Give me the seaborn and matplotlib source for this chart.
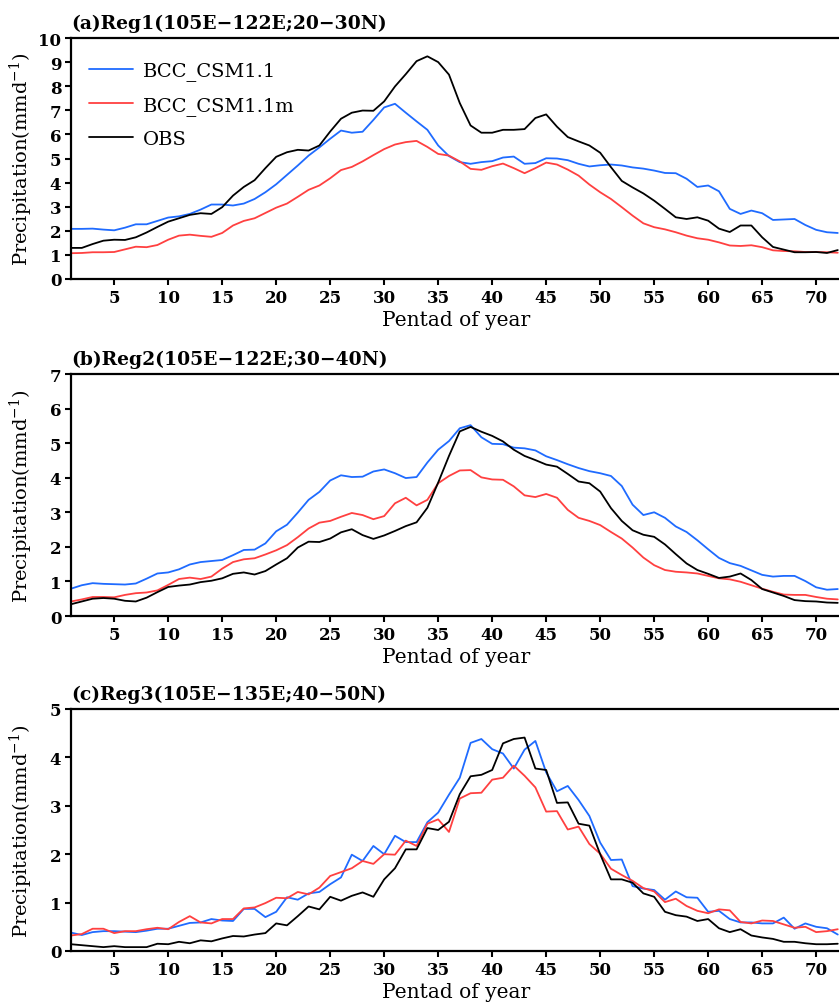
import pandas as pd
import seaborn as sns
import matplotlib.pyplot as plt

# pentads and series
pentads = list(range(1, 73))
models = ["BCC_CSM1.1", "BCC_CSM1.1m", "OBS"]
colors = {"BCC_CSM1.1": "#1f6bff", "BCC_CSM1.1m": "#ff4040", "OBS": "black"}

reg1_bcc = [2.08, 2.08, 2.09, 2.05, 2.02, 2.13, 2.27, 2.27, 2.41, 2.55, 2.6, 2.7, 2.88, 3.09, 3.09, 3.05, 3.13, 3.32,
            3.6, 3.93, 4.32, 4.71, 5.12, 5.46, 5.82, 6.16, 6.07, 6.11, 6.6, 7.12, 7.27, 6.9, 6.54, 6.19, 5.54, 5.1,
            4.85, 4.78, 4.85, 4.89, 5.04, 5.08, 4.78, 4.81, 5.01, 5.0, 4.93, 4.78, 4.67, 4.72, 4.75, 4.71, 4.63, 4.58,
            4.5, 4.4, 4.39, 4.16, 3.82, 3.88, 3.64, 2.91, 2.7, 2.84, 2.73, 2.45, 2.47, 2.49, 2.24, 2.04, 1.94, 1.91]
reg1_bccm = [1.07, 1.08, 1.11, 1.11, 1.12, 1.23, 1.34, 1.32, 1.41, 1.63, 1.8, 1.84, 1.79, 1.75, 1.91, 2.22, 2.41, 2.52,
             2.74, 2.96, 3.13, 3.41, 3.7, 3.88, 4.18, 4.52, 4.65, 4.88, 5.14, 5.39, 5.58, 5.68, 5.73, 5.48, 5.19, 5.12,
             4.88, 4.57, 4.53, 4.68, 4.79, 4.6, 4.39, 4.6, 4.83, 4.75, 4.54, 4.29, 3.92, 3.6, 3.32, 2.98, 2.63, 2.31,
             2.15, 2.06, 1.94, 1.8, 1.69, 1.63, 1.52, 1.39, 1.37, 1.4, 1.32, 1.19, 1.16, 1.15, 1.12, 1.12, 1.11, 1.09]
reg1_obs = [1.29, 1.29, 1.45, 1.59, 1.63, 1.62, 1.73, 1.93, 2.16, 2.38, 2.52, 2.66, 2.73, 2.7, 2.98, 3.46, 3.82, 4.1,
            4.6, 5.07, 5.26, 5.36, 5.33, 5.54, 6.12, 6.65, 6.9, 6.99, 6.98, 7.37, 7.99, 8.5, 9.04, 9.24, 9.0, 8.48,
            7.3, 6.37, 6.07, 6.07, 6.19, 6.19, 6.22, 6.68, 6.83, 6.32, 5.89, 5.71, 5.54, 5.24, 4.64, 4.07, 3.8, 3.55,
            3.25, 2.91, 2.56, 2.49, 2.56, 2.42, 2.09, 1.95, 2.22, 2.22, 1.73, 1.33, 1.22, 1.11, 1.11, 1.12, 1.08, 1.2]

reg2_bcc = [0.79, 0.89, 0.95, 0.93, 0.92, 0.91, 0.94, 1.08, 1.23, 1.26, 1.35, 1.49, 1.56, 1.59, 1.62, 1.76, 1.91, 1.92,
            2.1, 2.45, 2.64, 2.99, 3.36, 3.59, 3.92, 4.07, 4.02, 4.03, 4.18, 4.24, 4.13, 3.99, 4.02, 4.44, 4.81, 5.06,
            5.43, 5.52, 5.17, 4.98, 4.97, 4.87, 4.85, 4.79, 4.62, 4.51, 4.39, 4.28, 4.19, 4.13, 4.05, 3.76, 3.22, 2.92,
            3.0, 2.84, 2.59, 2.43, 2.19, 1.93, 1.68, 1.53, 1.45, 1.32, 1.19, 1.14, 1.16, 1.16, 1.01, 0.83, 0.76, 0.78]
reg2_bccm = [0.42, 0.48, 0.55, 0.55, 0.54, 0.61, 0.66, 0.68, 0.74, 0.9, 1.07, 1.11, 1.07, 1.14, 1.37, 1.56, 1.64, 1.67,
             1.78, 1.9, 2.05, 2.28, 2.53, 2.7, 2.75, 2.87, 2.98, 2.92, 2.8, 2.89, 3.26, 3.42, 3.2, 3.36, 3.84, 4.05,
             4.21, 4.22, 4.01, 3.95, 3.94, 3.75, 3.49, 3.44, 3.53, 3.42, 3.07, 2.84, 2.75, 2.63, 2.43, 2.24, 1.98, 1.69,
             1.47, 1.33, 1.28, 1.26, 1.23, 1.16, 1.09, 1.06, 0.99, 0.89, 0.79, 0.7, 0.62, 0.61, 0.61, 0.55, 0.5, 0.48]
reg2_obs = [0.34, 0.42, 0.5, 0.52, 0.5, 0.44, 0.42, 0.53, 0.69, 0.84, 0.88, 0.91, 0.98, 1.02, 1.09, 1.22, 1.26, 1.2,
            1.3, 1.49, 1.67, 1.98, 2.15, 2.14, 2.24, 2.42, 2.51, 2.34, 2.23, 2.33, 2.46, 2.6, 2.71, 3.13, 3.86, 4.63,
            5.34, 5.47, 5.33, 5.21, 5.05, 4.81, 4.63, 4.51, 4.38, 4.32, 4.11, 3.89, 3.84, 3.6, 3.12, 2.75, 2.48, 2.35,
            2.29, 2.07, 1.79, 1.52, 1.33, 1.22, 1.1, 1.14, 1.23, 1.04, 0.78, 0.68, 0.58, 0.46, 0.43, 0.42, 0.39, 0.38]

reg3_bcc = [0.38, 0.33, 0.39, 0.41, 0.41, 0.4, 0.39, 0.42, 0.46, 0.46, 0.52, 0.58, 0.59, 0.66, 0.63, 0.62, 0.87, 0.87,
            0.7, 0.81, 1.11, 1.06, 1.19, 1.22, 1.38, 1.52, 1.99, 1.86, 2.17, 2.0, 2.38, 2.25, 2.25, 2.66, 2.86, 3.23,
            3.58, 4.3, 4.38, 4.17, 4.08, 3.77, 4.16, 4.34, 3.69, 3.3, 3.41, 3.12, 2.79, 2.24, 1.88, 1.89, 1.34, 1.29,
            1.26, 1.06, 1.23, 1.11, 1.1, 0.81, 0.83, 0.66, 0.59, 0.59, 0.57, 0.57, 0.69, 0.46, 0.57, 0.5, 0.47, 0.34]
reg3_bccm = [0.32, 0.35, 0.46, 0.46, 0.37, 0.41, 0.41, 0.45, 0.48, 0.45, 0.6, 0.72, 0.59, 0.57, 0.66, 0.66, 0.88, 0.9,
             0.99, 1.1, 1.09, 1.22, 1.17, 1.31, 1.55, 1.63, 1.71, 1.86, 1.8, 2.0, 1.99, 2.28, 2.17, 2.63, 2.72, 2.46,
             3.15, 3.26, 3.27, 3.54, 3.58, 3.83, 3.62, 3.38, 2.88, 2.89, 2.51, 2.57, 2.21, 2.01, 1.7, 1.57, 1.45, 1.3,
             1.23, 1.01, 1.08, 0.93, 0.83, 0.78, 0.86, 0.84, 0.6, 0.57, 0.63, 0.62, 0.55, 0.48, 0.5, 0.39, 0.41, 0.45]
reg3_obs = [0.14, 0.12, 0.1, 0.08, 0.1, 0.08, 0.08, 0.08, 0.15, 0.14, 0.19, 0.16, 0.22, 0.2, 0.26, 0.31, 0.3, 0.34,
            0.37, 0.57, 0.53, 0.72, 0.92, 0.86, 1.12, 1.04, 1.14, 1.21, 1.12, 1.48, 1.71, 2.1, 2.1, 2.54, 2.5, 2.67,
            3.24, 3.61, 3.64, 3.74, 4.29, 4.38, 4.41, 3.77, 3.74, 3.06, 3.07, 2.63, 2.59, 2.0, 1.48, 1.48, 1.41, 1.19,
            1.12, 0.81, 0.74, 0.71, 0.62, 0.66, 0.47, 0.39, 0.45, 0.32, 0.28, 0.25, 0.19, 0.19, 0.16, 0.14, 0.14, 0.15]

titles = ["(a)Reg1(105E\u2212122E;20\u221230N)",
          "(b)Reg2(105E\u2212122E;30\u221240N)",
          "(c)Reg3(105E\u2212135E;40\u221250N)"]
ymax = [10, 7, 5]
panels = [(reg1_bcc, reg1_bccm, reg1_obs),
          (reg2_bcc, reg2_bccm, reg2_obs),
          (reg3_bcc, reg3_bccm, reg3_obs)]

sns.set_style("ticks")
plt.rcParams["font.family"] = ["DejaVu Serif"]
plt.rcParams["mathtext.fontset"] = "dejavuserif"
plt.rcParams["text.color"] = "black"
plt.rcParams["axes.labelcolor"] = "black"
plt.rcParams["axes.edgecolor"] = "black"
plt.rcParams["xtick.color"] = "black"
plt.rcParams["ytick.color"] = "black"

fig = plt.figure(figsize=(8.39, 10.04), dpi=100)
W, H = 839, 1004
# axes boxes in pixels: (left, top, right, bottom)
boxes = [(71, 39, 841, 280), (71, 375, 841, 617), (71, 710, 841, 952)]

for i in range(3):
    l, t, r, b = boxes[i]
    ax = fig.add_axes([l / W, 1 - b / H, (r - l) / W, (b - t) / H])
    df = pd.DataFrame({"Pentad": pentads,
                       models[0]: panels[i][0],
                       models[1]: panels[i][1],
                       models[2]: panels[i][2]})
    df = df.melt(id_vars="Pentad", var_name="Model", value_name="Precip")
    sns.lineplot(data=df, x="Pentad", y="Precip", hue="Model", hue_order=models,
                 palette=colors, linewidth=1.3, ax=ax, legend=(i == 0))
    ax.set_xlim(1, 72.3)
    ax.set_ylim(0, ymax[i])
    ax.set_xticks(range(5, 71, 5))
    ax.set_yticks(range(0, ymax[i] + 1))
    ax.tick_params(direction="out", length=4, width=1.5, labelsize=12, pad=3)
    for lab in ax.get_xticklabels() + ax.get_yticklabels():
        lab.set_fontweight("bold")
    for sp in ax.spines.values():
        sp.set_linewidth(1.6)
    ax.set_xlabel("Pentad of year", fontsize=14.5, labelpad=3)
    ax.set_ylabel("Precipitation(mmd$^{-1}$)", fontsize=14)
    ax.yaxis.set_label_coords(-0.047, 0.5)
    ax.set_title(titles[i], loc="left", fontsize=13.5, fontweight="bold", pad=7)
    if i == 0:
        ax.legend(loc="upper left", bbox_to_anchor=(0.0, 0.975), frameon=False,
                  fontsize=14, handlelength=2.3, handletextpad=0.5, labelspacing=0.78)

fig.savefig("out.png", dpi=100)
